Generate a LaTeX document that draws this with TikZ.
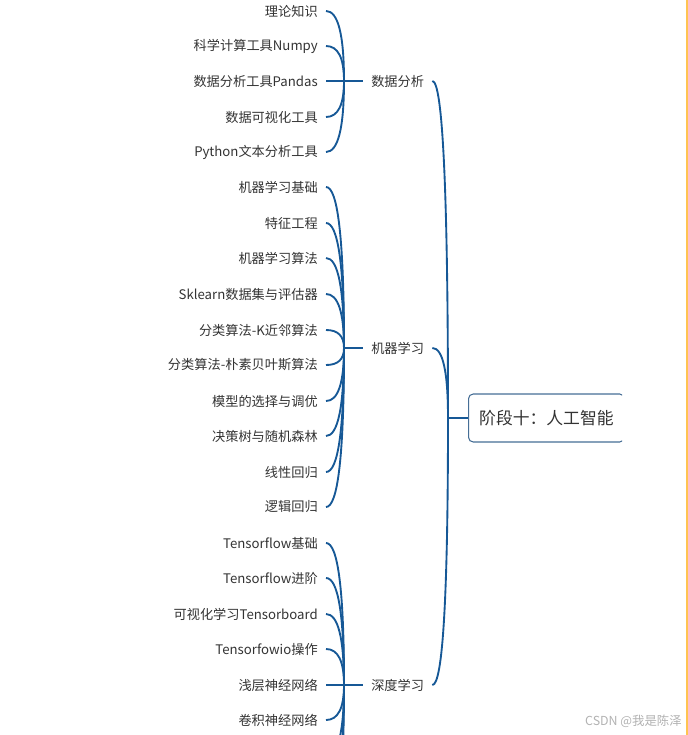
\documentclass[tikz,border=0pt]{standalone}
\usepackage{fontspec}
\setmainfont{Noto Sans CJK SC}
\usepackage{xcolor}
\usetikzlibrary{calc}

\definecolor{linkblue}{RGB}{22,88,150}
\definecolor{boxblue}{RGB}{70,110,150}
\definecolor{txtgray}{RGB}{51,51,51}
\definecolor{edgeyellow}{RGB}{255,196,80}

\begin{document}
\begin{tikzpicture}[x=0.75pt,y=-0.75pt,
  leaf/.style={anchor=east,inner xsep=6pt,inner ysep=1pt,text=txtgray,font=\fontsize{9.9}{11}\selectfont},
  branch/.style={anchor=west,inner xsep=6pt,inner ysep=1pt,text=txtgray,font=\fontsize{9.9}{11}\selectfont},
  root/.style={draw=boxblue,line width=0.8pt,rounded corners=3.5pt,fill=white,anchor=west,
    inner xsep=8pt,minimum height=36pt,text=txtgray,font=\fontsize{12.6}{14}\selectfont},
  link/.style={draw=linkblue,line width=1.4pt},
  sweep/.style={to path={.. controls ($(\tikztostart)!.667!(\tikztostart -| \tikztotarget)$)
    and ($(\tikztotarget)!.667!(\tikztotarget |- \tikztostart)$) .. (\tikztotarget)}}]

\useasboundingbox (0,0) rectangle (688,735);
\clip (0,0) rectangle (688,735);

\begin{scope}
\clip (0,0) rectangle (622,735);
\node (root) [root] at (468,418) {阶段十：人工智能};
\end{scope}
\coordinate (jroot) at (448,418);

\node (ana) [branch] at (363,81) {数据分析};
\node (ml) [branch] at (363,348) {机器学习};
\node (dl) [branch] at (363,685) {深度学习};

\coordinate (jana) at (344,81);
\coordinate (jml) at (344,348);
\coordinate (jdl) at (344,685);

\node (a1) [leaf] at (326,11) {理论知识};
\node (a2) [leaf] at (326,46) {科学计算工具Numpy};
\node (a3) [leaf] at (326,81) {数据分析工具Pandas};
\node (a4) [leaf] at (326,117) {数据可视化工具};
\node (a5) [leaf] at (326,152) {Python文本分析工具};

\node (m1) [leaf] at (326,187) {机器学习基础};
\node (m2) [leaf] at (326,223) {特征工程};
\node (m3) [leaf] at (326,258) {机器学习算法};
\node (m4) [leaf] at (326,294) {Sklearn数据集与评估器};
\node (m5) [leaf] at (326,330) {分类算法-K近邻算法};
\node (m6) [leaf] at (326,365) {分类算法-朴素贝叶斯算法};
\node (m7) [leaf] at (326,401) {模型的选择与调优};
\node (m8) [leaf] at (326,436) {决策树与随机森林};
\node (m9) [leaf] at (326,472) {线性回归};
\node (m10) [leaf] at (326,507) {逻辑回归};

\node (d1) [leaf] at (326,543) {Tensorflow基础};
\node (d2) [leaf] at (326,578) {Tensorflow进阶};
\node (d3) [leaf] at (326,614) {可视化学习Tensorboard};
\node (d4) [leaf] at (326,649) {Tensorfowio操作};
\node (d5) [leaf] at (326,685) {浅层神经网络};
\node (d6) [leaf] at (326,720) {卷积神经网络};
\coordinate (d7) at (326,756);
\coordinate (d8) at (326,791);
\coordinate (d9) at (326,827);

\draw[link] (jroot) -- (root.west);
\draw[link] (ana.east) to[sweep] (jroot);
\draw[link] (ml.east) to[sweep] (jroot);
\draw[link] (dl.east) to[sweep] (jroot);

\draw[link] (jana) -- (ana.west);
\draw[link] (jml) -- (ml.west);
\draw[link] (jdl) -- (dl.west);

\draw[link] (a1.east) to[sweep] (jana);
\draw[link] (a2.east) to[sweep] (jana);
\draw[link] (a3.east) -- (jana);
\draw[link] (a4.east) to[sweep] (jana);
\draw[link] (a5.east) to[sweep] (jana);

\draw[link] (m1.east) to[sweep] (jml);
\draw[link] (m2.east) to[sweep] (jml);
\draw[link] (m3.east) to[sweep] (jml);
\draw[link] (m4.east) to[sweep] (jml);
\draw[link] (m5.east) to[sweep] (jml);
\draw[link] (m6.east) to[sweep] (jml);
\draw[link] (m7.east) to[sweep] (jml);
\draw[link] (m8.east) to[sweep] (jml);
\draw[link] (m9.east) to[sweep] (jml);
\draw[link] (m10.east) to[sweep] (jml);

\draw[link] (d1.east) to[sweep] (jdl);
\draw[link] (d2.east) to[sweep] (jdl);
\draw[link] (d3.east) to[sweep] (jdl);
\draw[link] (d4.east) to[sweep] (jdl);
\draw[link] (d5.east) -- (jdl);
\draw[link] (d6.east) to[sweep] (jdl);
\draw[link] (d7) to[sweep] (jdl);
\draw[link] (d8) to[sweep] (jdl);
\draw[link] (d9) to[sweep] (jdl);

\node (mark) [anchor=east,text=black!30,font=\fontsize{9.3}{10}\selectfont,inner sep=0pt] at (682,721) {CSDN @我是陈泽};
\coordinate (edgetop) at (687,0);
\coordinate (edgebot) at (687,735);
\draw[edgeyellow,line width=1.5pt] (edgetop) -- (edgebot);

\end{tikzpicture}
\end{document}
